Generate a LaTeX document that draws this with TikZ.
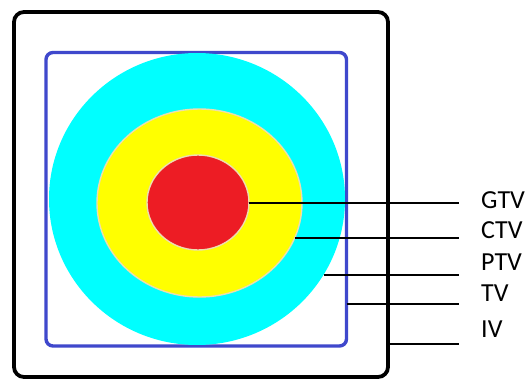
\documentclass[tikz,border=0pt]{standalone}
\usepackage{fontspec}
\setmainfont{Carlito}
\usetikzlibrary{shapes.geometric}
\definecolor{outerblack}{RGB}{0,0,0}
\definecolor{tvblue}{RGB}{63,72,204}
\definecolor{ptvcyan}{RGB}{0,255,255}
\definecolor{ctvyellow}{RGB}{255,255,0}
\definecolor{gtvred}{RGB}{237,28,36}
\definecolor{rimbeige}{RGB}{236,222,176}
\tikzset{
  volshape/.style={ellipse, inner sep=0pt, outer sep=0pt},
  leader/.style={draw=black, line width=1.8pt},
  vollabel/.style={anchor=base west, inner sep=0pt, font=\fontsize{26}{30}\selectfont}
}
\begin{document}
\begin{tikzpicture}[x=1pt,y=-1pt]
\useasboundingbox (0,0) rectangle (528,380);
\fill[white] (0,0) rectangle (528,380);
% IV
\draw[line width=3.8pt, rounded corners=10pt] (14,12) rectangle (388,377);
\coordinate (ivStart) at (388,344);
% TV
\draw[tvblue, line width=3.4pt, rounded corners=7pt] (46,52.5) rectangle (346.5,346);
\coordinate (tvStart) at (346.5,304);
% PTV
\node[volshape, fill=ptvcyan, minimum width=296pt, minimum height=292pt] (ptv) at (197,199) {};
% CTV
\node[volshape, fill=ctvyellow, draw=rimbeige, line width=1.4pt, minimum width=205pt, minimum height=188pt] (ctv) at (199.5,203) {};
% GTV
\node[volshape, fill=gtvred, draw=rimbeige, line width=1.4pt, minimum width=102pt, minimum height=95pt] (gtv) at (198,202.5) {};
\coordinate (ptvStart) at (323.5,275);
\coordinate (ctvStart) at (294.6,238);
% line ends
\coordinate (gtvEnd) at (459,203);
\coordinate (ctvEnd) at (459,238);
\coordinate (ptvEnd) at (459,275);
\coordinate (tvEnd) at (459,304);
\coordinate (ivEnd) at (459,344);
\draw[leader] (gtv.east |- gtvEnd) -- (gtvEnd);
\draw[leader] (ctvStart) -- (ctvEnd);
\draw[leader] (ptvStart) -- (ptvEnd);
\draw[leader] (tvStart) -- (tvEnd);
\draw[leader] (ivStart) -- (ivEnd);
% labels
\node[vollabel] (gtvLabel) at (481,208) {GTV};
\node[vollabel] (ctvLabel) at (481,238) {CTV};
\node[vollabel] (ptvLabel) at (481,270) {PTV};
\node[vollabel] (tvLabel) at (481,301) {TV};
\node[vollabel] (ivLabel) at (481,337) {IV};
\end{tikzpicture}
\end{document}
